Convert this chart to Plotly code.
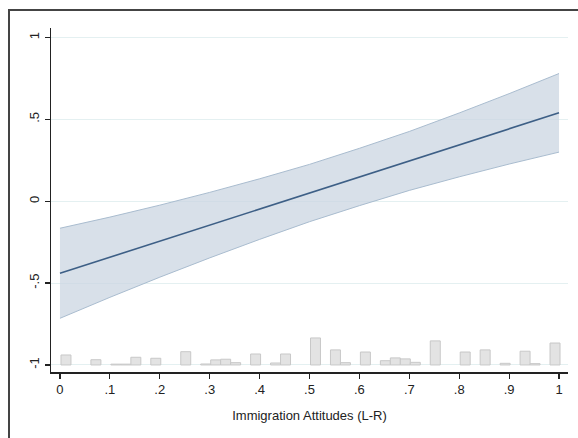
import plotly.graph_objects as go

# Fitted line and 95% CI
x_fit = [0, 0.1, 0.2, 0.3, 0.4, 0.5, 0.6, 0.7, 0.8, 0.9, 1.0]
y_fit = [-0.44, -0.342, -0.244, -0.146, -0.048, 0.05, 0.148, 0.246, 0.344, 0.442, 0.54]
ci_upper = [-0.165, -0.097, -0.024, 0.054, 0.137, 0.225, 0.323, 0.426, 0.539, 0.657, 0.78]
ci_lower = [-0.715, -0.587, -0.464, -0.346, -0.233, -0.125, -0.027, 0.066, 0.149, 0.227, 0.30]

# Histogram of immigration attitudes (drawn from base -1)
hist_x = [0.012, 0.072, 0.112, 0.132, 0.152, 0.192, 0.252, 0.292, 0.312, 0.332, 0.352,
          0.392, 0.432, 0.452, 0.512, 0.552, 0.572, 0.612, 0.652, 0.672, 0.692, 0.712,
          0.752, 0.812, 0.852, 0.892, 0.932, 0.952, 0.992]
hist_h = [0.061, 0.032, 0.005, 0.005, 0.047, 0.041, 0.081, 0.006, 0.031, 0.035, 0.014,
          0.067, 0.012, 0.067, 0.165, 0.092, 0.014, 0.079, 0.026, 0.043, 0.037, 0.016,
          0.147, 0.079, 0.092, 0.010, 0.084, 0.008, 0.134]
hist_base = -1

x_ticks = [0, 0.1, 0.2, 0.3, 0.4, 0.5, 0.6, 0.7, 0.8, 0.9, 1]
x_ticklabels = ["0", ".1", ".2", ".3", ".4", ".5", ".6", ".7", ".8", ".9", "1"]
y_ticks = [-1, -0.5, 0, 0.5, 1]
y_ticklabels = ["-1", "-.5", "0", ".5", "1"]
x_title = "Immigration Attitudes (L-R)"

W, H = 578, 438
# outer frame (top/left edges of the screenshot crop) via a second axis pair
fl, ft = 10, 11
aw, ah = W - fl, H - ft
# main plot area in pixels
px0, px1, py_top, py_bot = 51, 568, 28, 372
x_dom = [(px0 - fl) / aw, (px1 - fl) / aw]
y_dom = [(H - py_bot) / ah, (H - py_top) / ah]

fig = go.Figure()

fig.add_trace(go.Bar(
    x=hist_x, y=hist_h, base=hist_base, width=0.02,
    marker=dict(color="#e3e3e3", line=dict(color="#c8c8c8", width=1)),
    hoverinfo="skip", showlegend=False))

fig.add_trace(go.Scatter(
    x=x_fit, y=ci_lower, mode="lines",
    line=dict(color="#a9bccf", width=1), showlegend=False, hoverinfo="skip"))
fig.add_trace(go.Scatter(
    x=x_fit, y=ci_upper, mode="lines", fill="tonexty",
    fillcolor="rgba(203,214,226,0.75)",
    line=dict(color="#a9bccf", width=1), showlegend=False, hoverinfo="skip"))
fig.add_trace(go.Scatter(
    x=x_fit, y=y_fit, mode="lines",
    line=dict(color="#3d5f86", width=1.6), showlegend=False))

# empty trace to instantiate the frame axes
fig.add_trace(go.Scatter(x=[None], y=[None], xaxis="x2", yaxis="y2",
                         mode="lines", showlegend=False, hoverinfo="skip"))

fig.update_layout(
    width=W, height=H,
    margin=dict(l=fl, r=0, t=ft, b=0),
    paper_bgcolor="white", plot_bgcolor="rgba(0,0,0,0)",
    font=dict(family="Liberation Sans, Arial, sans-serif", size=13, color="#222"),
    bargap=0,
    xaxis=dict(
        domain=x_dom, anchor="y",
        range=[-0.018, 1.018], tickvals=x_ticks, ticktext=x_ticklabels,
        showgrid=False, zeroline=False,
        showline=True, linecolor="#222", linewidth=1.5,
        ticks="outside", ticklen=5, tickcolor="#222", tickwidth=1.2,
        tickfont=dict(size=13),
        title=dict(text=x_title, font=dict(size=13), standoff=15),
    ),
    yaxis=dict(
        domain=y_dom, anchor="x",
        range=[-1.043, 1.058], tickvals=y_ticks, ticktext=y_ticklabels,
        showgrid=True, gridcolor="#e4f0f1", gridwidth=1, zeroline=False,
        showline=True, linecolor="#222", linewidth=1.5,
        ticks="outside", ticklen=5, tickcolor="#222", tickwidth=1.2,
        tickangle=-90, tickfont=dict(size=13),
    ),
    xaxis2=dict(domain=[0, 1], anchor="y2", side="top", range=[0, 1],
                showline=True, linecolor="#444", linewidth=2,
                showgrid=False, zeroline=False, showticklabels=False, ticks=""),
    yaxis2=dict(domain=[0, 1], anchor="x2", side="left", range=[0, 1],
                showline=True, linecolor="#444", linewidth=2.4,
                showgrid=False, zeroline=False, showticklabels=False, ticks=""),
)

fig.write_html("out.html", config={"displayModeBar": False, "staticPlot": True},
               post_script="document.body.style.margin='0';document.documentElement.style.overflow='hidden';document.body.style.overflow='hidden';")
